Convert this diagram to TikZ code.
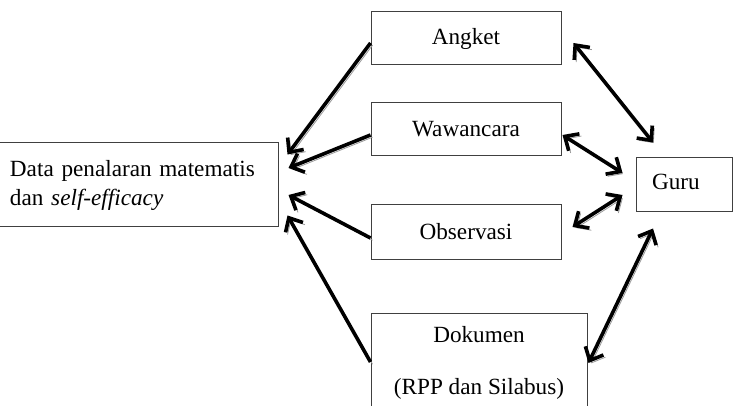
\documentclass[tikz,border=0pt]{standalone}
\usepackage{fontspec}
\setmainfont{Liberation Serif}
\usetikzlibrary{arrows.meta, positioning, calc}

\begin{document}
\begin{tikzpicture}[x=0.5pt, y=-0.5pt,
    font=\fontsize{11.6}{14.5}\selectfont,
    >={Straight Barb[length=5.5pt,width=10pt]},
    kotak/.style={draw=black!75, line width=0.5pt, inner sep=0pt, minimum width=95pt, minimum height=26.5pt},
    panah/.style={->, line width=1.8pt, preaction={draw=black!40, transform canvas={xshift=1pt,yshift=-1.1pt}}},
    panahdua/.style={panah, <->}]
    \useasboundingbox (0,0) rectangle (738,406);
    \clip (0,0) rectangle (738,406);
    \node[kotak] (angket) at (466,38.5) {Angket};
    \node[kotak] (wawancara) at (466,129.5) {Wawancara};
    \node[kotak, minimum height=27pt] (observasi) at (466,232) {Observasi};
    \node[kotak, anchor=north, minimum width=108pt, inner ysep=6.5pt, align=center] (dokumen) at (479,313) {Dokumen\\[11.5pt](RPP dan Silabus)};
    \node[kotak, minimum width=139.5pt, minimum height=42pt, inner xsep=5.5pt, text width=128.5pt, align=left] (data) at (138.5,185) {Data penalaran matematis\\dan \textit{self-efficacy}};
    \node[kotak, minimum width=48pt, minimum height=27pt, inner xsep=8pt, text width=32pt, align=left, text depth=3pt] (guru) at (684,185) {Guru};
    \draw[panah] ([shift={(0,4.5)}]angket.west) -- ([shift={(9,12)}]data.north east);
    \draw[panah] ([shift={(0,5.5)}]wawancara.west) -- ([shift={(10,-17)}]data.east);
    \draw[panah] ([shift={(0,6)}]observasi.west) -- ([shift={(10,10)}]data.east);
    \draw[panah] ([shift={(0,49)}]dokumen.north west) -- ([shift={(9,-12)}]data.south east);
    \draw[panahdua] ([shift={(12,4.5)}]angket.east) -- ([shift={(-31,-15)}]guru.north);
    \draw[panahdua] ([shift={(1,5.5)}]wawancara.east) -- ([shift={(-13,-12)}]guru.west);
    \draw[panahdua] ([shift={(11,-5)}]observasi.east) -- ([shift={(-13,10)}]guru.west);
    \draw[panahdua] ([shift={(1,50)}]dokumen.north east) -- ([shift={(-31,16)}]guru.south);
\end{tikzpicture}
\end{document}
